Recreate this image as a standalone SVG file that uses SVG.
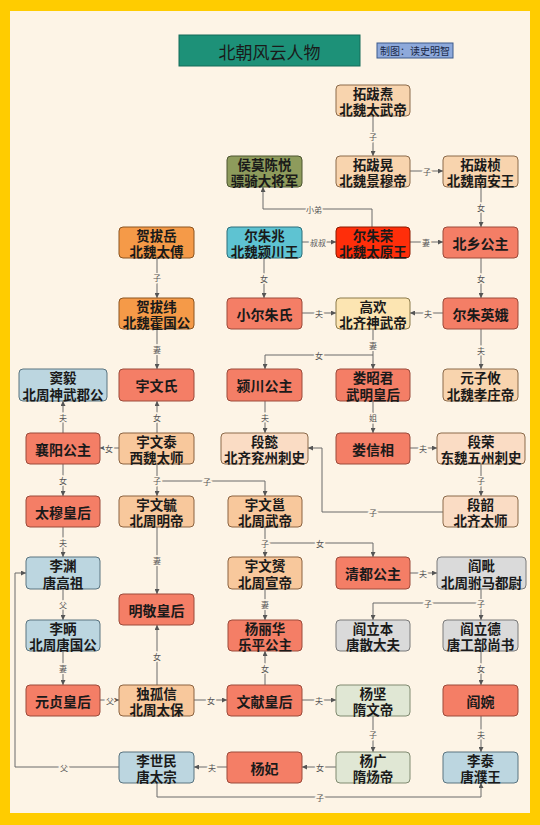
<svg xmlns="http://www.w3.org/2000/svg" width="540" height="825" viewBox="0 0 540 825">
<style>
.n rect{stroke-width:1}
.t{font-family:"Noto Sans CJK SC","Noto Sans",sans-serif;font-weight:bold;font-size:13.5px;text-anchor:middle;dominant-baseline:central;fill:#1a1a1a}
.t1{font-size:14px}
.c path{fill:none;stroke:#6a6a6a;stroke-width:1}
.l{font-family:"Noto Sans CJK SC",sans-serif;font-size:8px;fill:#555;stroke:#FDF4E6;stroke-width:3;paint-order:stroke;text-anchor:middle;dominant-baseline:central}
.p1{fill:#F8D4AE;stroke:#8B6A4A}
.p2{fill:#F8C89C;stroke:#8B6340}
.p3{fill:#FADCC4;stroke:#8B6A4A}
.y1{fill:#FCE5B2;stroke:#8B7A4A}
.s{fill:#F47E66;stroke:#9B4A3A}
.r{fill:#FF2E0A;stroke:#8B1A00}
.o{fill:#F59A48;stroke:#8B5420}
.g{fill:#8E9B5C;stroke:#4C5530}
.cy{fill:#5EC3D2;stroke:#2D6F7A}
.b{fill:#BCD6E0;stroke:#5A7480}
.gr{fill:#DADADA;stroke:#7A7A7A}
.sg{fill:#E0E7D4;stroke:#808A70}
</style>
<defs>
<marker id="a" viewBox="0 0 6 6" refX="6" refY="3" markerWidth="5" markerHeight="5" orient="auto"><path d="M0,0 L6,3 L0,6z" fill="#555"/></marker>
</defs>
<rect x="0" y="0" width="540" height="825" fill="#FFCC00"/>
<rect x="10" y="11" width="520" height="802" fill="#FDF4E6"/>
<g id="title">
<rect x="179" y="35" width="181" height="31" fill="#1D9178" stroke="#146B58"/>
<text x="269.5" y="51" font-family="'Noto Sans CJK SC',sans-serif" font-size="17" text-anchor="middle" dominant-baseline="central" fill="#1a1a1a">北朝风云人物</text>
</g>
<g id="credit">
<rect x="377" y="43" width="76" height="15" fill="#8EA9DB" stroke="#3D5A8C"/>
<text x="415" y="50.5" font-family="'Noto Sans CJK SC',sans-serif" font-size="10" text-anchor="middle" dominant-baseline="central" fill="#1a2a4a">制图：读史明智</text>
</g>
<g class="c">
<path d="M373,116 V156" marker-end="url(#a)"/>
<path d="M410,171 H443" marker-end="url(#a)"/>
<path d="M481,187 V227" marker-end="url(#a)"/>
<path d="M410,242 H443" marker-end="url(#a)"/>
<path d="M481,258 V298" marker-end="url(#a)"/>
<path d="M443,313 H410" marker-end="url(#a)"/>
<path d="M302,242 H336" marker-end="url(#a)"/>
<path d="M372,227 V209 H263 V187" marker-end="url(#a)"/>
<path d="M264,258 V298" marker-end="url(#a)"/>
<path d="M302,313 H336" marker-end="url(#a)"/>
<path d="M157,258 V298" marker-end="url(#a)"/>
<path d="M157,329 V369" marker-end="url(#a)"/>
<path d="M373,329 V369" marker-end="url(#a)"/>
<path d="M373,355 H265 V369" marker-end="url(#a)"/>
<path d="M373,401 V433" marker-end="url(#a)"/>
<path d="M410,448 H437" marker-end="url(#a)"/>
<path d="M481,329 V369" marker-end="url(#a)"/>
<path d="M481,464 V496" marker-end="url(#a)"/>
<path d="M443,512 H322 V448 H308" marker-end="url(#a)"/>
<path d="M265,401 V433" marker-end="url(#a)"/>
<path d="M157,433 V401" marker-end="url(#a)"/>
<path d="M119,448 H100" marker-end="url(#a)"/>
<path d="M63,433 V401" marker-end="url(#a)"/>
<path d="M63,464 V496" marker-end="url(#a)"/>
<path d="M157,464 V496" marker-end="url(#a)"/>
<path d="M157,481 H265 V496" marker-end="url(#a)"/>
<path d="M63,527 V557" marker-end="url(#a)"/>
<path d="M157,527 V594" marker-end="url(#a)"/>
<path d="M265,527 V557" marker-end="url(#a)"/>
<path d="M265,543 H373 V557" marker-end="url(#a)"/>
<path d="M265,589 V620" marker-end="url(#a)"/>
<path d="M410,573 H437" marker-end="url(#a)"/>
<path d="M481,589 V620" marker-end="url(#a)"/>
<path d="M481,603 H373 V620" marker-end="url(#a)"/>
<path d="M481,651 V685" marker-end="url(#a)"/>
<path d="M481,716 V752" marker-end="url(#a)"/>
<path d="M63,589 V620" marker-end="url(#a)"/>
<path d="M63,651 V685" marker-end="url(#a)"/>
<path d="M100,700 H119" marker-end="url(#a)"/>
<path d="M157,685 V625" marker-end="url(#a)"/>
<path d="M194,700 H227" marker-end="url(#a)"/>
<path d="M265,685 V651" marker-end="url(#a)"/>
<path d="M302,700 H336" marker-end="url(#a)"/>
<path d="M373,716 V752" marker-end="url(#a)"/>
<path d="M336,767 H302" marker-end="url(#a)"/>
<path d="M227,767 H194" marker-end="url(#a)"/>
<path d="M119,767 H15 V573 H26" marker-end="url(#a)"/>
<path d="M157,783 V797 H481 V783" marker-end="url(#a)"/>
<text class="l" x="373" y="136">子</text>
<text class="l" x="427" y="171">子</text>
<text class="l" x="481" y="207">女</text>
<text class="l" x="426" y="242">妻</text>
<text class="l" x="481" y="278">女</text>
<text class="l" x="428" y="313">夫</text>
<text class="l" x="318" y="242">叔叔</text>
<text class="l" x="314" y="209">小弟</text>
<text class="l" x="264" y="278">女</text>
<text class="l" x="319" y="313">夫</text>
<text class="l" x="157" y="277">子</text>
<text class="l" x="157" y="349">妻</text>
<text class="l" x="373" y="345">妻</text>
<text class="l" x="319" y="355">女</text>
<text class="l" x="373" y="417">姐</text>
<text class="l" x="423" y="448">夫</text>
<text class="l" x="481" y="350">夫</text>
<text class="l" x="481" y="480">子</text>
<text class="l" x="373" y="512">子</text>
<text class="l" x="265" y="417">夫</text>
<text class="l" x="157" y="417">女</text>
<text class="l" x="109" y="448">女</text>
<text class="l" x="63" y="417">夫</text>
<text class="l" x="63" y="480">女</text>
<text class="l" x="157" y="480">子</text>
<text class="l" x="207" y="481">子</text>
<text class="l" x="63" y="542">夫</text>
<text class="l" x="157" y="560">妻</text>
<text class="l" x="265" y="543">子</text>
<text class="l" x="320" y="543">女</text>
<text class="l" x="265" y="604">妻</text>
<text class="l" x="423" y="573">夫</text>
<text class="l" x="481" y="603">子</text>
<text class="l" x="428" y="603">子</text>
<text class="l" x="481" y="668">女</text>
<text class="l" x="481" y="734">夫</text>
<text class="l" x="63" y="604">父</text>
<text class="l" x="63" y="668">妻</text>
<text class="l" x="110" y="700">父</text>
<text class="l" x="157" y="656">女</text>
<text class="l" x="211" y="700">女</text>
<text class="l" x="265" y="668">女</text>
<text class="l" x="319" y="700">夫</text>
<text class="l" x="373" y="734">子</text>
<text class="l" x="320" y="767">女</text>
<text class="l" x="212" y="767">夫</text>
<text class="l" x="64" y="767">父</text>
<text class="l" x="320" y="797">子</text>
</g>
<g id="tuobatao" class="n"><rect class="p1" x="336" y="85" width="74" height="31" rx="4"/><text class="t"><tspan x="373" y="92.5">拓跋焘</tspan><tspan x="373" y="109">北魏太武帝</tspan></text></g>
<g id="houmochenyue" class="n"><rect class="g" x="227" y="156" width="75" height="31" rx="4"/><text class="t"><tspan x="264.5" y="163.5">侯莫陈悦</tspan><tspan x="264.5" y="180">骠骑大将军</tspan></text></g>
<g id="tuobahuang" class="n"><rect class="p1" x="336" y="156" width="74" height="31" rx="4"/><text class="t"><tspan x="373" y="163.5">拓跋晃</tspan><tspan x="373" y="180">北魏景穆帝</tspan></text></g>
<g id="tuobazhen" class="n"><rect class="p1" x="443" y="156" width="75" height="31" rx="4"/><text class="t"><tspan x="480.5" y="163.5">拓跋桢</tspan><tspan x="480.5" y="180">北魏南安王</tspan></text></g>
<g id="heba_yue" class="n"><rect class="o" x="119" y="227" width="75" height="31" rx="4"/><text class="t"><tspan x="156.5" y="234.5">贺拔岳</tspan><tspan x="156.5" y="251">北魏太傅</tspan></text></g>
<g id="erzhuzhao" class="n"><rect class="cy" x="227" y="227" width="75" height="31" rx="4"/><text class="t"><tspan x="264.5" y="234.5">尔朱兆</tspan><tspan x="264.5" y="251">北魏颍川王</tspan></text></g>
<g id="erzhurong" class="n"><rect class="r" x="336" y="227" width="74" height="31" rx="4"/><text class="t"><tspan x="373" y="234.5">尔朱荣</tspan><tspan x="373" y="251">北魏太原王</tspan></text></g>
<g id="beixiang" class="n"><rect class="s" x="443" y="227" width="75" height="31" rx="4"/><text class="t t1" x="480.5" y="242.5">北乡公主</text></g>
<g id="heba_wei" class="n"><rect class="o" x="119" y="298" width="75" height="31" rx="4"/><text class="t"><tspan x="156.5" y="305.5">贺拔纬</tspan><tspan x="156.5" y="322">北魏霍国公</tspan></text></g>
<g id="xiaoerzhu" class="n"><rect class="s" x="227" y="298" width="75" height="31" rx="4"/><text class="t t1" x="264.5" y="313.5">小尔朱氏</text></g>
<g id="gaohuan" class="n"><rect class="y1" x="336" y="298" width="74" height="31" rx="4"/><text class="t"><tspan x="373" y="305.5">高欢</tspan><tspan x="373" y="322">北齐神武帝</tspan></text></g>
<g id="erzhuyinge" class="n"><rect class="s" x="443" y="298" width="75" height="31" rx="4"/><text class="t t1" x="480.5" y="313.5">尔朱英娥</text></g>
<g id="douyi" class="n"><rect class="b" x="19" y="369" width="88" height="32" rx="4"/><text class="t"><tspan x="63" y="377">窦毅</tspan><tspan x="63" y="393.5">北周神武郡公</tspan></text></g>
<g id="yuwenshi" class="n"><rect class="s" x="119" y="369" width="75" height="32" rx="4"/><text class="t t1" x="156.5" y="385">宇文氏</text></g>
<g id="yingchuan" class="n"><rect class="s" x="227" y="369" width="75" height="32" rx="4"/><text class="t t1" x="264.5" y="385">颍川公主</text></g>
<g id="louzhaojun" class="n"><rect class="s" x="336" y="369" width="74" height="32" rx="4"/><text class="t"><tspan x="373" y="377">娄昭君</tspan><tspan x="373" y="393.5">武明皇后</tspan></text></g>
<g id="yuanziyou" class="n"><rect class="p1" x="443" y="369" width="75" height="32" rx="4"/><text class="t"><tspan x="480.5" y="377">元子攸</tspan><tspan x="480.5" y="393.5">北魏孝庄帝</tspan></text></g>
<g id="xiangyang" class="n"><rect class="s" x="26" y="433" width="74" height="31" rx="4"/><text class="t t1" x="63" y="448.5">襄阳公主</text></g>
<g id="yuwentai" class="n"><rect class="p2" x="119" y="433" width="75" height="31" rx="4"/><text class="t"><tspan x="156.5" y="440.5">宇文泰</tspan><tspan x="156.5" y="457">西魏太师</tspan></text></g>
<g id="duanyi" class="n"><rect class="p3" x="221" y="433" width="87" height="31" rx="4"/><text class="t"><tspan x="264.5" y="440.5">段懿</tspan><tspan x="264.5" y="457">北齐兖州刺史</tspan></text></g>
<g id="louxinxiang" class="n"><rect class="s" x="336" y="433" width="74" height="31" rx="4"/><text class="t t1" x="373" y="448.5">娄信相</text></g>
<g id="duanrong" class="n"><rect class="p3" x="437" y="433" width="88" height="31" rx="4"/><text class="t"><tspan x="481" y="440.5">段荣</tspan><tspan x="481" y="457">东魏五州刺史</tspan></text></g>
<g id="taimu" class="n"><rect class="s" x="26" y="496" width="74" height="31" rx="4"/><text class="t t1" x="63" y="511.5">太穆皇后</text></g>
<g id="yuwenyu" class="n"><rect class="p2" x="119" y="496" width="75" height="31" rx="4"/><text class="t"><tspan x="156.5" y="503.5">宇文毓</tspan><tspan x="156.5" y="520">北周明帝</tspan></text></g>
<g id="yuwenyong" class="n"><rect class="p2" x="228" y="496" width="74" height="31" rx="4"/><text class="t"><tspan x="265" y="503.5">宇文邕</tspan><tspan x="265" y="520">北周武帝</tspan></text></g>
<g id="duanshao" class="n"><rect class="p3" x="443" y="496" width="75" height="31" rx="4"/><text class="t"><tspan x="480.5" y="503.5">段韶</tspan><tspan x="480.5" y="520">北齐太师</tspan></text></g>
<g id="liyuan" class="n"><rect class="b" x="26" y="557" width="74" height="32" rx="4"/><text class="t"><tspan x="63" y="565">李渊</tspan><tspan x="63" y="581.5">唐高祖</tspan></text></g>
<g id="yuwenyun" class="n"><rect class="p2" x="228" y="557" width="74" height="32" rx="4"/><text class="t"><tspan x="265" y="565">宇文赟</tspan><tspan x="265" y="581.5">北周宣帝</tspan></text></g>
<g id="qingdu" class="n"><rect class="s" x="336" y="557" width="74" height="32" rx="4"/><text class="t t1" x="373" y="573">清都公主</text></g>
<g id="yanpi" class="n"><rect class="gr" x="437" y="557" width="89" height="32" rx="4"/><text class="t"><tspan x="481.5" y="565">阎毗</tspan><tspan x="481.5" y="581.5">北周驸马都尉</tspan></text></g>
<g id="mingjing" class="n"><rect class="s" x="119" y="594" width="75" height="31" rx="4"/><text class="t t1" x="156.5" y="609.5">明敬皇后</text></g>
<g id="libing" class="n"><rect class="b" x="26" y="620" width="74" height="31" rx="4"/><text class="t"><tspan x="63" y="627.5">李昞</tspan><tspan x="63" y="644">北周唐国公</tspan></text></g>
<g id="yanglihua" class="n"><rect class="s" x="228" y="620" width="74" height="31" rx="4"/><text class="t"><tspan x="265" y="627.5">杨丽华</tspan><tspan x="265" y="644">乐平公主</tspan></text></g>
<g id="yanliben" class="n"><rect class="gr" x="336" y="620" width="74" height="31" rx="4"/><text class="t"><tspan x="373" y="627.5">阎立本</tspan><tspan x="373" y="644">唐散大夫</tspan></text></g>
<g id="yanlide" class="n"><rect class="gr" x="443" y="620" width="75" height="31" rx="4"/><text class="t"><tspan x="480.5" y="627.5">阎立德</tspan><tspan x="480.5" y="644">唐工部尚书</tspan></text></g>
<g id="yuanzhen" class="n"><rect class="s" x="26" y="685" width="74" height="31" rx="4"/><text class="t t1" x="63" y="700.5">元贞皇后</text></g>
<g id="duguxin" class="n"><rect class="p2" x="119" y="685" width="75" height="31" rx="4"/><text class="t"><tspan x="156.5" y="692.5">独孤信</tspan><tspan x="156.5" y="709">北周太保</tspan></text></g>
<g id="wenxian" class="n"><rect class="s" x="227" y="685" width="75" height="31" rx="4"/><text class="t t1" x="264.5" y="700.5">文献皇后</text></g>
<g id="yangjian" class="n"><rect class="sg" x="336" y="685" width="74" height="31" rx="4"/><text class="t"><tspan x="373" y="692.5">杨坚</tspan><tspan x="373" y="709">隋文帝</tspan></text></g>
<g id="yanwan" class="n"><rect class="s" x="443" y="685" width="75" height="31" rx="4"/><text class="t t1" x="480.5" y="700.5">阎婉</text></g>
<g id="lishimin" class="n"><rect class="b" x="119" y="752" width="75" height="31" rx="4"/><text class="t"><tspan x="156.5" y="759.5">李世民</tspan><tspan x="156.5" y="776">唐太宗</tspan></text></g>
<g id="yangfei" class="n"><rect class="s" x="227" y="752" width="75" height="31" rx="4"/><text class="t t1" x="264.5" y="767.5">杨妃</text></g>
<g id="yangguang" class="n"><rect class="sg" x="336" y="752" width="74" height="31" rx="4"/><text class="t"><tspan x="373" y="759.5">杨广</tspan><tspan x="373" y="776">隋炀帝</tspan></text></g>
<g id="litai" class="n"><rect class="b" x="443" y="752" width="75" height="31" rx="4"/><text class="t"><tspan x="480.5" y="759.5">李泰</tspan><tspan x="480.5" y="776">唐濮王</tspan></text></g>
</svg>
